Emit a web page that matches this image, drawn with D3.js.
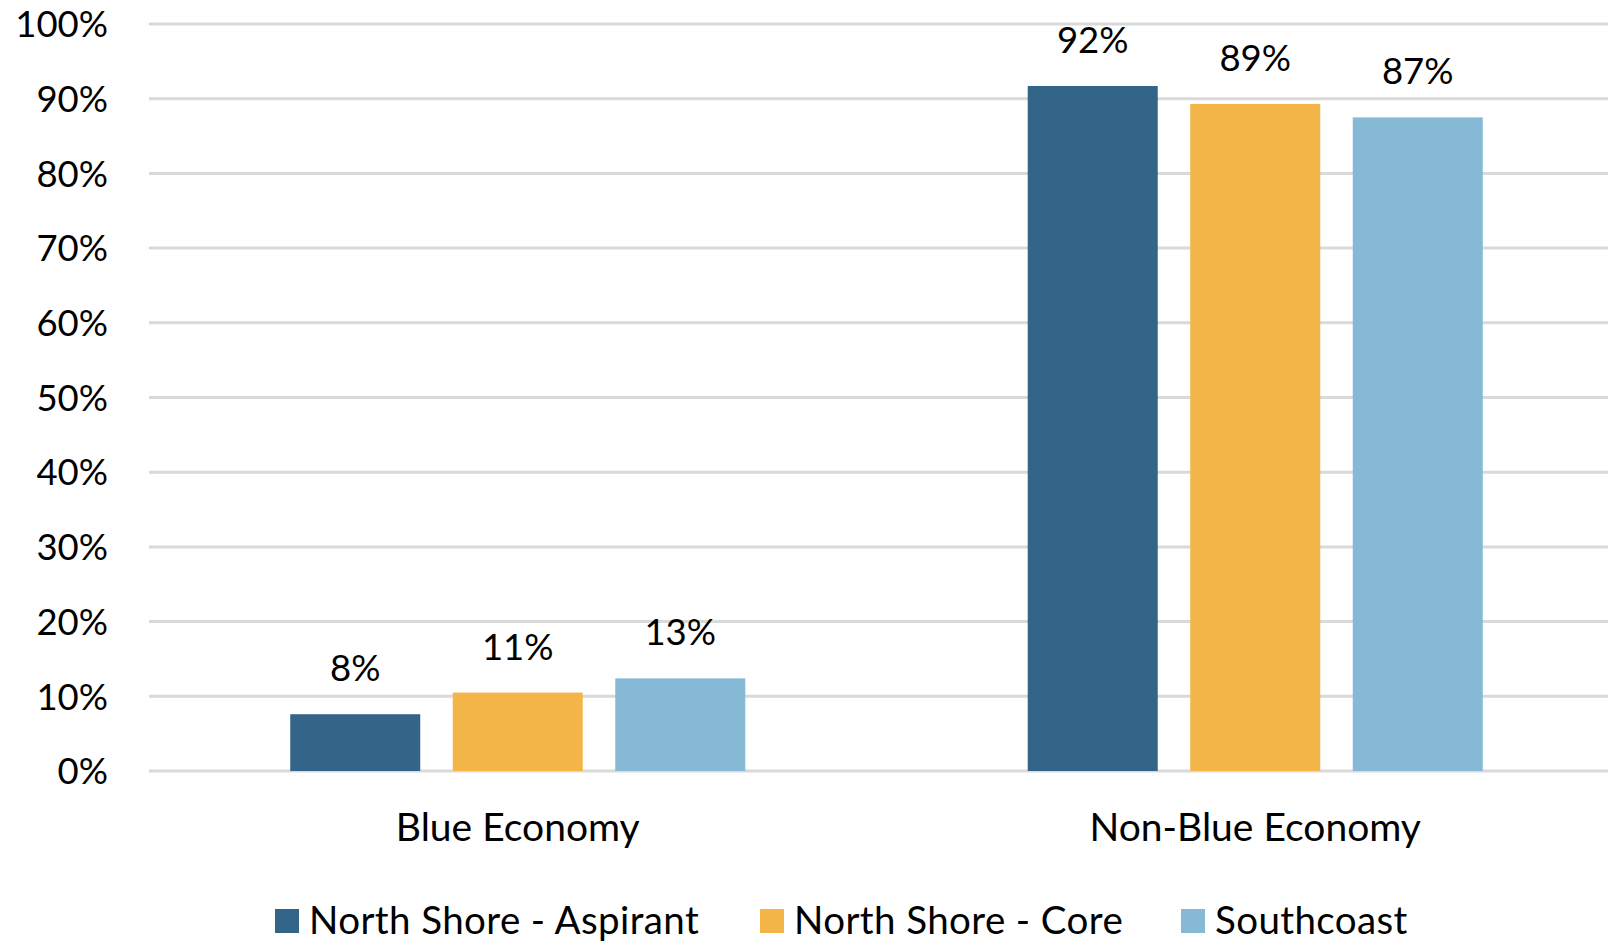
<!DOCTYPE html>
<html>
<head>
<meta charset="utf-8">
<script src="https://cdn.jsdelivr.net/npm/d3@7"></script>
<style>
  html, body { margin: 0; padding: 0; background: #fff; overflow: hidden; }
  svg { display: block; }
  text { font-family: Lato, "Open Sans", sans-serif; fill: #000; }
</style>
</head>
<body>
<svg id="chart" width="1608" height="941"></svg>
<script>
// ---- data ----
const categories = ["Blue Economy", "Non-Blue Economy"];
const seriesNames = ["North Shore - Aspirant", "North Shore - Core", "Southcoast"];
const seriesColors = ["#336588", "#F4B548", "#86B9D6"];
const aspirantValues = [7.6, 91.7];
const coreValues = [10.5, 89.3];
const southcoastValues = [12.4, 87.5];
const aspirantLabels = ["8%", "92%"];
const coreLabels = ["11%", "89%"];
const southcoastLabels = ["13%", "87%"];
const yTicks = [0, 10, 20, 30, 40, 50, 60, 70, 80, 90, 100];
const yTickLabels = ["0%", "10%", "20%", "30%", "40%", "50%", "60%", "70%", "80%", "90%", "100%"];

const seriesValues = [aspirantValues, coreValues, southcoastValues];
const seriesLabels = [aspirantLabels, coreLabels, southcoastLabels];

// ---- layout ----
const svg = d3.select("#chart");
const plotLeft = 149, plotRight = 1624, plotTop = 24, plotBottom = 771;

const y = d3.scaleLinear().domain([0, 100]).range([plotBottom, plotTop]);
const x0 = d3.scaleBand().domain(categories).range([plotLeft, plotRight])
  .paddingInner(0.383).paddingOuter(0.1915);
const x1 = d3.scaleBand().domain(seriesNames).range([0, x0.bandwidth()])
  .paddingInner(0.2).paddingOuter(0);

// gridlines
svg.append("g").selectAll("line").data(yTicks).join("line")
  .attr("x1", plotLeft).attr("x2", 1608)
  .attr("y1", d => y(d)).attr("y2", d => y(d))
  .attr("stroke", "#D9D9D9").attr("stroke-width", 3);

// y axis labels
const yAxis = d3.axisLeft(y).tickValues(yTicks)
  .tickFormat((d, i) => yTickLabels[i]).tickSize(0).tickPadding(0);
const yg = svg.append("g").attr("transform", "translate(108,0)").call(yAxis);
yg.select(".domain").remove();
yg.selectAll("text").attr("font-size", 36.5).attr("font-family", "Lato, sans-serif")
  .attr("fill", "#000").attr("dy", "0.35em");

// bars
const rows = [];
categories.forEach((c, ci) => {
  seriesNames.forEach((s, si) => {
    rows.push({ cat: c, series: s, si, value: seriesValues[si][ci], label: seriesLabels[si][ci] });
  });
});

svg.append("g").selectAll("rect").data(rows).join("rect")
  .attr("x", d => x0(d.cat) + x1(d.series))
  .attr("y", d => y(d.value))
  .attr("width", x1.bandwidth())
  .attr("height", d => y(0) - y(d.value))
  .attr("fill", d => seriesColors[d.si]);

// data labels
svg.append("g").selectAll("text").data(rows).join("text")
  .attr("x", d => x0(d.cat) + x1(d.series) + x1.bandwidth() / 2)
  .attr("y", d => y(d.value) - 33)
  .attr("text-anchor", "middle")
  .attr("font-size", 36.5)
  .text(d => d.label);

// x axis labels
const xAxis = d3.axisBottom(x0).tickSize(0).tickPadding(0);
const xg = svg.append("g").attr("transform", "translate(0,841)").call(xAxis);
xg.select(".domain").remove();
xg.selectAll("text").attr("font-size", 39).attr("font-family", "Lato, sans-serif")
  .attr("fill", "#000").attr("dy", 0);

// legend
const legendItems = [
  { name: seriesNames[0], color: seriesColors[0], x: 275 },
  { name: seriesNames[1], color: seriesColors[1], x: 760 },
  { name: seriesNames[2], color: seriesColors[2], x: 1181 }
];
const lg = svg.append("g");
const li = lg.selectAll("g").data(legendItems).join("g")
  .attr("transform", d => `translate(${d.x},921)`);
li.append("rect").attr("x", 0).attr("y", -12).attr("width", 24).attr("height", 24)
  .attr("fill", d => d.color);
li.append("text").attr("x", 34).attr("y", 0).attr("dy", "0.35em")
  .attr("font-size", 38.5).attr("letter-spacing", 0.4).text(d => d.name);
</script>
</body>
</html>
